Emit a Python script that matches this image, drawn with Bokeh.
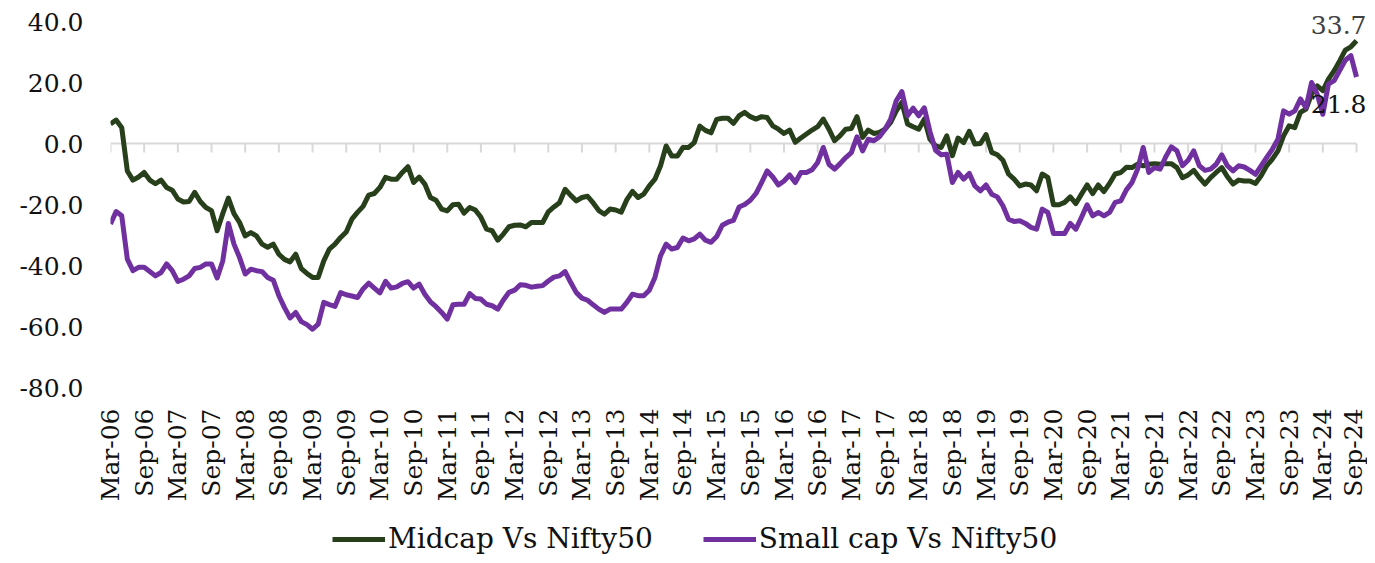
import math
from bokeh.plotting import figure
from bokeh.layouts import column
from bokeh.models import (FixedTicker, Legend, LegendItem, Label,
                          NumeralTickFormatter, Range1d)
from bokeh.embed import file_html
from bokeh.resources import INLINE

# Monthly relative performance (%), Mar-06 .. Sep-24
midcap = [
    6.4, 7.7, 5.2, -9.0, -12.0, -11.0, -9.5, -12.0, -13.2, -12.0, -14.4, -15.3,
    -18.2, -19.2, -19.0, -16.0, -19.0, -21.0, -22.0, -28.6, -23.0, -17.9, -23.0, -25.9,
    -30.3, -29.2, -30.3, -33.0, -34.0, -33.0, -36.3, -38.0, -38.8, -36.3, -41.0, -42.6,
    -43.9, -43.9, -38.5, -34.6, -33.0, -30.8, -29.0, -24.8, -22.6, -20.6, -16.9, -16.4,
    -14.4, -11.1, -11.7, -11.7, -9.5, -7.6, -12.8, -11.0, -13.3, -17.7, -18.6, -21.5,
    -22.1, -20.1, -19.9, -22.8, -21.0, -21.8, -24.2, -28.1, -28.6, -31.7, -29.7, -27.3,
    -26.8, -26.7, -27.3, -25.9, -25.9, -25.9, -22.4, -20.8, -19.4, -15.0, -17.0, -18.8,
    -17.7, -17.3, -19.5, -22.0, -23.2, -21.5, -21.8, -22.5, -18.4, -15.7, -17.7, -16.6,
    -13.9, -11.7, -7.3, -0.8, -4.1, -4.1, -1.3, -1.3, 0.3, 5.7, 4.3, 3.5,
    7.9, 8.3, 8.3, 6.6, 9.1, 10.2, 8.8, 8.0, 8.8, 8.5, 5.8, 4.7,
    3.3, 4.4, 0.4, 1.8, 3.1, 4.4, 5.5, 8.0, 4.7, 0.9, 2.6, 4.7,
    4.9, 8.8, 2.0, 4.4, 3.3, 3.6, 4.7, 6.9, 10.7, 13.5, 6.4, 5.5,
    4.7, 8.0, 1.4, -0.8, -1.3, 2.5, -4.0, 1.8, 0.3, 4.0, -0.2, 0.0,
    2.9, -2.9, -3.7, -5.5, -10.0, -11.7, -13.9, -13.3, -13.6, -15.5, -10.0, -11.1,
    -20.1, -20.1, -19.3, -17.5, -19.7, -16.6, -13.6, -16.4, -13.6, -15.8, -13.1, -10.0,
    -9.5, -7.8, -7.9, -6.8, -7.3, -6.8, -6.6, -6.8, -6.6, -6.6, -7.9, -11.2,
    -10.3, -8.8, -11.2, -13.3, -11.2, -9.5, -7.9, -10.9, -13.3, -12.0, -12.3, -12.3,
    -13.1, -10.6, -7.3, -5.1, -2.4, 2.5, 5.8, 5.2, 10.2, 11.3, 16.2, 18.9,
    17.3, 21.1, 23.8, 27.1, 30.6, 31.7, 33.7,
]
smallcap = [
    -26.4, -22.3, -23.7, -37.9, -41.7, -40.6, -40.6, -42.0, -43.4, -42.3, -39.5, -41.7,
    -45.2, -44.5, -43.4, -41.0, -40.6, -39.5, -39.5, -44.1, -38.5, -26.2, -33.0, -37.4,
    -42.8, -41.2, -41.7, -42.0, -43.9, -44.8, -49.9, -53.8, -57.2, -55.4, -58.4, -59.4,
    -60.9, -59.2, -52.1, -52.8, -53.4, -48.9, -49.6, -50.0, -50.5, -47.7, -45.8, -47.4,
    -49.0, -45.2, -47.4, -47.0, -45.9, -45.3, -47.4, -46.1, -49.4, -51.9, -53.5, -55.4,
    -57.6, -52.9, -52.7, -52.7, -49.2, -50.8, -51.0, -52.7, -53.2, -54.3, -51.3, -48.8,
    -48.1, -46.3, -46.5, -47.1, -46.8, -46.6, -45.1, -43.8, -43.4, -42.0, -45.6, -48.9,
    -50.7, -51.4, -52.9, -54.3, -55.4, -54.3, -54.3, -54.3, -52.1, -49.4, -49.9, -49.9,
    -48.1, -43.9, -36.8, -33.0, -34.6, -34.1, -31.0, -31.9, -31.3, -29.7, -31.7, -32.4,
    -30.5, -26.8, -25.8, -25.2, -20.8, -20.0, -18.6, -16.4, -12.8, -9.0, -11.0, -13.6,
    -12.3, -10.3, -12.8, -9.5, -9.5, -8.6, -6.2, -1.3, -6.8, -8.4, -6.6, -4.6,
    -3.0, 2.2, -2.4, 1.4, 0.9, 2.2, 4.7, 8.0, 14.0, 17.0, 9.1, 11.6,
    9.1, 11.7, 3.9, -2.2, -3.7, -3.5, -12.8, -9.5, -11.7, -9.8, -13.9, -15.5,
    -13.6, -16.6, -17.5, -20.4, -24.8, -25.6, -25.3, -26.2, -27.5, -28.1, -21.5, -22.6,
    -29.5, -29.5, -29.5, -26.2, -28.1, -24.2, -20.1, -23.7, -22.6, -23.7, -22.6, -19.3,
    -18.8, -15.2, -12.8, -8.4, -1.3, -9.5, -7.9, -8.4, -4.4, -1.1, -2.4, -7.3,
    -5.5, -2.4, -7.3, -8.8, -8.4, -6.8, -3.7, -7.3, -9.0, -7.3, -7.7, -8.8,
    -10.1, -7.3, -4.6, -1.9, 1.4, 10.7, 9.6, 10.7, 14.6, 11.8, 20.0, 16.2,
    9.6, 19.5, 20.6, 23.9, 27.3, 28.8, 21.8,
]
tick_labels = [
    "Mar-06", "Sep-06", "Mar-07", "Sep-07", "Mar-08", "Sep-08", "Mar-09", "Sep-09",
    "Mar-10", "Sep-10", "Mar-11", "Sep-11", "Mar-12", "Sep-12", "Mar-13", "Sep-13",
    "Mar-14", "Sep-14", "Mar-15", "Sep-15", "Mar-16", "Sep-16", "Mar-17", "Sep-17",
    "Mar-18", "Sep-18", "Mar-19", "Sep-19", "Mar-20", "Sep-20", "Mar-21", "Sep-21",
    "Mar-22", "Sep-22", "Mar-23", "Sep-23", "Mar-24", "Sep-24",
]
y_ticks = [-80, -60, -40, -20, 0, 20, 40]
series_names = ["Midcap Vs Nifty50", "Small cap Vs Nifty50"]

months = list(range(len(midcap)))
x_ticks = list(range(0, len(midcap), 6))

FONT = "DejaVu Serif"
FSIZE = "25px"
LEG_FSIZE = "28px"
GREEN = "#283f1b"
PURPLE = "#7030a0"
AXIS_GRAY = "#d9d9d9"
TEXT = "#111111"

W = 1367
H_MAIN, H_LEG = 512, 43
LEFT, TOP = 110, 21    # px position of the first month / of the 40.0 level
DATA_W = 1246          # px between first and last month
DATA_H = 366           # px between the 40.0 and -80.0 levels
LEGEND_X = 332         # px where the legend starts
frame_w = W - LEFT
x_end = months[0] + (months[-1] - months[0]) * frame_w / DATA_W
units_per_px = (y_ticks[-1] - y_ticks[0]) / DATA_H
y_end = y_ticks[-1] + TOP * units_per_px   # headroom so the end label is not clipped

p = figure(width=W, height=H_MAIN, output_backend="svg", toolbar_location=None,
           x_range=Range1d(months[0], x_end), y_range=Range1d(y_ticks[0], y_end),
           min_border_left=LEFT, min_border_right=0, min_border_top=0,
           min_border_bottom=H_MAIN - TOP - DATA_H)
p.outline_line_color = None
p.grid.visible = False
p.background_fill_color = "white"
p.border_fill_color = "white"

# horizontal axis line at zero with small downward tick marks
tick_len = 9 * units_per_px
p.segment(x0=[x_ticks[0]], y0=[0], x1=[x_ticks[-1]], y1=[0],
          line_color=AXIS_GRAY, line_width=2, level="underlay")
p.segment(x0=x_ticks, y0=[0] * len(x_ticks), x1=x_ticks, y1=[-tick_len] * len(x_ticks),
          line_color=AXIS_GRAY, line_width=2, level="underlay")

p.line(months, midcap, line_color=GREEN, line_width=5, line_join="round")
p.line(months, smallcap, line_color=PURPLE, line_width=5, line_join="round")

xa = p.xaxis[0]
xa.ticker = FixedTicker(ticks=x_ticks)
xa.major_label_overrides = {t: lab for t, lab in zip(x_ticks, tick_labels)}
xa.major_label_orientation = math.pi / 2
xa.axis_line_color = None
xa.major_tick_line_color = None
xa.major_tick_out = 0
xa.major_tick_in = 0
xa.minor_tick_line_color = None
xa.minor_tick_out = 0
xa.major_label_standoff = 21
xa.major_label_text_font = FONT
xa.major_label_text_font_size = FSIZE
xa.major_label_text_color = TEXT

ya = p.yaxis[0]
ya.ticker = FixedTicker(ticks=y_ticks)
ya.formatter = NumeralTickFormatter(format="0.0")
ya.axis_line_color = None
ya.major_tick_line_color = None
ya.major_tick_out = 0
ya.major_tick_in = 0
ya.minor_tick_line_color = None
ya.minor_tick_out = 0
ya.major_label_standoff = 27
ya.major_label_text_font = FONT
ya.major_label_text_font_size = FSIZE
ya.major_label_text_color = TEXT

# end-of-series value labels (kept fully inside the canvas)
p.add_layout(Label(x=months[-1], y=midcap[-1], text=f"{midcap[-1]:.1f}",
                   text_align="right", text_baseline="bottom", x_offset=10, y_offset=7,
                   text_font=FONT, text_font_size=FSIZE, text_color="#404040"))
p.add_layout(Label(x=months[-1], y=smallcap[-1], text=f"{smallcap[-1]:.1f}",
                   text_align="right", text_baseline="top", x_offset=10, y_offset=-18,
                   text_font=FONT, text_font_size=FSIZE, text_color=TEXT))

# legend strip below the chart (frames of a column are aligned, so offset from LEFT)
lf = figure(width=W, height=H_LEG, output_backend="svg", toolbar_location=None,
            x_range=Range1d(0, 1), y_range=Range1d(0, 1),
            x_axis_type=None, y_axis_type=None, min_border=0)
lf.outline_line_color = None
lf.grid.visible = False
lf.border_fill_color = "white"
lf.background_fill_color = "white"
# legend keys only: placed outside the visible range of this strip
k1 = lf.line([0, 1], [-5, -5], line_color=GREEN, line_width=5)
k2 = lf.line([0, 1], [-5, -5], line_color=PURPLE, line_width=5)
legend = Legend(items=[LegendItem(label=series_names[0], renderers=[k1]),
                       LegendItem(label=series_names[1], renderers=[k2])],
                orientation="horizontal", location=(LEGEND_X - LEFT, 0),
                label_text_font=FONT, label_text_font_size=LEG_FSIZE,
                label_text_color=TEXT,
                glyph_width=53, glyph_height=26, label_standoff=3, spacing=50,
                border_line_color=None, background_fill_alpha=0,
                padding=0, margin=0)
lf.add_layout(legend, "center")

layout = column(p, lf, spacing=0)
open("out.html", "w").write(file_html(layout, INLINE))
